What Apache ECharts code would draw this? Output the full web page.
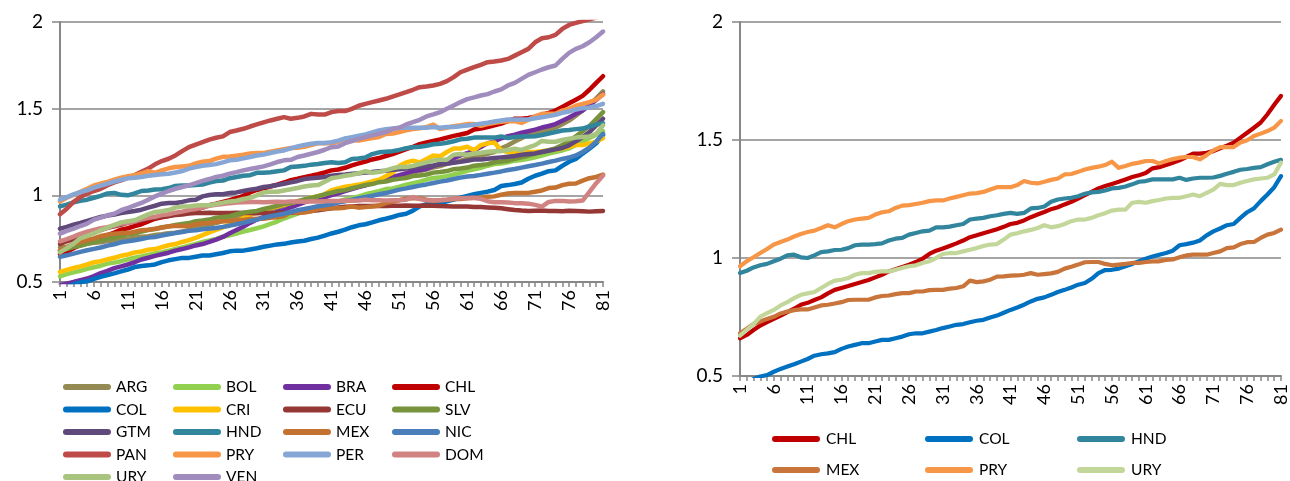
<!DOCTYPE html>
<html><head><meta charset="utf-8">
<script src="https://cdn.jsdelivr.net/npm/echarts@6/dist/echarts.min.js"></script>
<style>
html,body{margin:0;padding:0;background:#fff;}
#wrap{position:relative;width:1290px;height:481px;}
#left{position:absolute;left:0;top:0;width:645px;height:481px;}
#right{position:absolute;left:645px;top:0;width:645px;height:481px;}
</style>
</head><body><div id="wrap"><div id="left"></div><div id="right"></div></div>
<script>
const categories = ['1','2','3','4','5','6','7','8','9','10','11','12','13','14','15','16','17','18','19','20','21','22','23','24','25','26','27','28','29','30','31','32','33','34','35','36','37','38','39','40','41','42','43','44','45','46','47','48','49','50','51','52','53','54','55','56','57','58','59','60','61','62','63','64','65','66','67','68','69','70','71','72','73','74','75','76','77','78','79','80','81'];
const yTicks = [0.5, 1, 1.5, 2];

const ARG = [0.700,0.704,0.711,0.714,0.720,0.726,0.729,0.736,0.740,0.746,0.750,0.756,0.761,0.764,0.771,0.775,0.781,0.784,0.791,0.800,0.811,0.819,0.831,0.840,0.851,0.859,0.871,0.880,0.889,0.901,0.910,0.921,0.929,0.941,0.950,0.961,0.969,0.981,0.990,1.000,1.011,1.019,1.031,1.040,1.050,1.061,1.069,1.081,1.090,1.100,1.111,1.119,1.131,1.140,1.150,1.161,1.169,1.181,1.190,1.200,1.211,1.219,1.231,1.240,1.250,1.271,1.289,1.311,1.330,1.350,1.361,1.369,1.381,1.390,1.410,1.431,1.460,1.490,1.521,1.560,1.600];
const BOL = [0.533,0.545,0.556,0.564,0.576,0.585,0.594,0.606,0.612,0.620,0.631,0.640,0.647,0.656,0.665,0.672,0.680,0.691,0.700,0.709,0.720,0.731,0.740,0.749,0.761,0.770,0.779,0.791,0.800,0.810,0.821,0.835,0.849,0.866,0.880,0.894,0.911,0.925,0.934,0.946,0.955,0.964,0.976,0.985,0.994,1.006,1.015,1.024,1.036,1.040,1.050,1.061,1.070,1.079,1.091,1.100,1.104,1.111,1.120,1.129,1.141,1.150,1.159,1.171,1.180,1.184,1.191,1.200,1.204,1.211,1.220,1.229,1.241,1.250,1.259,1.271,1.290,1.309,1.331,1.350,1.370];
const BRA = [0.480,0.490,0.500,0.511,0.520,0.534,0.551,0.564,0.580,0.590,0.601,0.614,0.630,0.640,0.651,0.660,0.669,0.681,0.690,0.700,0.711,0.719,0.731,0.745,0.760,0.781,0.800,0.819,0.841,0.860,0.874,0.891,0.905,0.914,0.931,0.945,0.959,0.971,0.980,0.989,1.001,1.012,1.024,1.036,1.047,1.058,1.071,1.082,1.094,1.106,1.117,1.128,1.140,1.146,1.152,1.168,1.184,1.200,1.215,1.231,1.243,1.260,1.279,1.301,1.310,1.329,1.341,1.350,1.361,1.370,1.379,1.391,1.400,1.411,1.430,1.449,1.471,1.490,1.521,1.550,1.585];
const CHL = [0.660,0.674,0.695,0.714,0.728,0.742,0.756,0.771,0.785,0.802,0.810,0.822,0.833,0.850,0.865,0.873,0.881,0.890,0.898,0.907,0.918,0.929,0.943,0.952,0.962,0.972,0.983,0.997,1.017,1.031,1.040,1.051,1.062,1.074,1.088,1.096,1.105,1.113,1.122,1.132,1.144,1.149,1.159,1.173,1.184,1.195,1.207,1.215,1.227,1.238,1.252,1.266,1.280,1.295,1.305,1.314,1.323,1.333,1.343,1.351,1.360,1.380,1.385,1.394,1.404,1.414,1.428,1.442,1.442,1.446,1.453,1.465,1.476,1.489,1.510,1.531,1.552,1.574,1.609,1.649,1.687];
const COL = [0.455,0.470,0.487,0.498,0.504,0.518,0.530,0.540,0.550,0.561,0.572,0.586,0.592,0.596,0.601,0.615,0.625,0.632,0.639,0.639,0.646,0.653,0.653,0.660,0.667,0.677,0.681,0.681,0.688,0.695,0.703,0.710,0.717,0.720,0.728,0.734,0.738,0.748,0.756,0.768,0.780,0.790,0.802,0.816,0.827,0.833,0.844,0.856,0.865,0.875,0.887,0.894,0.912,0.936,0.949,0.950,0.955,0.965,0.975,0.986,0.997,1.006,1.014,1.021,1.031,1.054,1.059,1.065,1.074,1.096,1.113,1.125,1.139,1.144,1.170,1.194,1.210,1.241,1.269,1.300,1.347];
const CRI = [0.558,0.570,0.581,0.590,0.601,0.614,0.620,0.631,0.640,0.651,0.659,0.670,0.676,0.686,0.690,0.701,0.712,0.719,0.731,0.741,0.755,0.770,0.786,0.800,0.815,0.831,0.850,0.869,0.890,0.905,0.914,0.926,0.935,0.946,0.955,0.966,0.975,0.986,0.995,1.006,1.030,1.040,1.050,1.055,1.062,1.070,1.081,1.090,1.110,1.130,1.170,1.190,1.200,1.190,1.210,1.230,1.225,1.250,1.270,1.270,1.280,1.260,1.290,1.300,1.305,1.260,1.250,1.245,1.245,1.250,1.250,1.255,1.260,1.265,1.270,1.280,1.290,1.290,1.300,1.310,1.330];
const ECU = [0.720,0.735,0.748,0.760,0.776,0.789,0.800,0.812,0.821,0.830,0.842,0.849,0.856,0.866,0.870,0.876,0.881,0.886,0.890,0.895,0.898,0.898,0.899,0.898,0.898,0.898,0.899,0.898,0.898,0.897,0.898,0.898,0.899,0.898,0.899,0.902,0.906,0.910,0.914,0.920,0.925,0.930,0.934,0.936,0.938,0.938,0.939,0.940,0.939,0.940,0.940,0.941,0.940,0.940,0.941,0.940,0.938,0.937,0.936,0.936,0.935,0.933,0.932,0.930,0.928,0.925,0.920,0.915,0.912,0.910,0.911,0.912,0.910,0.909,0.908,0.911,0.910,0.908,0.906,0.908,0.910];
const SLV = [0.680,0.690,0.701,0.709,0.720,0.731,0.739,0.750,0.755,0.766,0.775,0.780,0.791,0.800,0.805,0.816,0.820,0.829,0.835,0.840,0.851,0.855,0.860,0.871,0.875,0.880,0.891,0.900,0.905,0.910,0.921,0.930,0.940,0.951,0.955,0.965,0.976,0.985,0.995,1.006,1.015,1.025,1.030,1.041,1.050,1.060,1.065,1.076,1.080,1.090,1.095,1.100,1.111,1.115,1.120,1.131,1.135,1.140,1.151,1.155,1.160,1.171,1.175,1.180,1.191,1.195,1.200,1.211,1.220,1.230,1.241,1.250,1.260,1.271,1.290,1.310,1.341,1.370,1.400,1.440,1.480];
const GTM = [0.808,0.818,0.831,0.841,0.852,0.864,0.875,0.883,0.889,0.898,0.904,0.910,0.917,0.929,0.940,0.952,0.956,0.956,0.962,0.971,0.975,0.994,1.002,1.006,1.006,1.013,1.017,1.025,1.033,1.038,1.048,1.052,1.060,1.067,1.075,1.083,1.094,1.098,1.102,1.106,1.113,1.117,1.120,1.124,1.128,1.131,1.135,1.139,1.142,1.147,1.150,1.155,1.160,1.163,1.168,1.172,1.178,1.183,1.188,1.193,1.200,1.207,1.207,1.211,1.215,1.219,1.223,1.227,1.234,1.238,1.242,1.250,1.257,1.265,1.273,1.288,1.311,1.336,1.365,1.403,1.442];
const HND = [0.936,0.946,0.960,0.969,0.975,0.986,0.997,1.011,1.014,1.003,1.000,1.011,1.025,1.028,1.034,1.035,1.042,1.054,1.057,1.057,1.059,1.062,1.074,1.082,1.085,1.099,1.106,1.113,1.116,1.130,1.130,1.133,1.139,1.144,1.163,1.167,1.170,1.177,1.181,1.187,1.191,1.187,1.191,1.210,1.212,1.218,1.238,1.248,1.252,1.255,1.262,1.272,1.278,1.280,1.286,1.295,1.297,1.303,1.312,1.323,1.326,1.333,1.333,1.333,1.333,1.340,1.331,1.337,1.340,1.340,1.341,1.348,1.357,1.365,1.374,1.377,1.382,1.385,1.397,1.408,1.416];
const MEX = [0.681,0.700,0.720,0.731,0.742,0.751,0.765,0.773,0.779,0.782,0.782,0.790,0.799,0.802,0.807,0.813,0.822,0.823,0.823,0.823,0.833,0.839,0.841,0.847,0.851,0.851,0.858,0.858,0.864,0.865,0.865,0.870,0.873,0.880,0.904,0.898,0.901,0.908,0.921,0.922,0.925,0.926,0.929,0.936,0.929,0.932,0.935,0.941,0.955,0.963,0.972,0.982,0.983,0.983,0.975,0.969,0.972,0.975,0.979,0.979,0.983,0.986,0.986,0.992,0.994,1.003,1.011,1.014,1.014,1.014,1.021,1.028,1.042,1.045,1.059,1.067,1.068,1.085,1.099,1.106,1.120];
const NIC = [0.645,0.654,0.664,0.674,0.683,0.691,0.699,0.710,0.718,0.729,0.735,0.741,0.748,0.756,0.760,0.768,0.775,0.783,0.789,0.795,0.798,0.804,0.808,0.812,0.818,0.825,0.833,0.841,0.852,0.860,0.871,0.879,0.887,0.894,0.904,0.914,0.921,0.929,0.937,0.942,0.948,0.958,0.965,0.975,0.983,0.990,0.998,1.006,1.013,1.023,1.033,1.040,1.048,1.056,1.063,1.071,1.079,1.086,1.094,1.102,1.109,1.112,1.118,1.125,1.131,1.138,1.146,1.152,1.160,1.168,1.175,1.183,1.192,1.200,1.210,1.218,1.230,1.250,1.275,1.310,1.355];
const PAN = [0.891,0.923,0.962,0.990,1.010,1.025,1.038,1.058,1.075,1.086,1.102,1.117,1.136,1.154,1.179,1.198,1.211,1.230,1.255,1.278,1.293,1.307,1.321,1.332,1.340,1.365,1.374,1.384,1.397,1.409,1.421,1.432,1.442,1.451,1.442,1.447,1.455,1.470,1.466,1.466,1.480,1.486,1.486,1.499,1.517,1.528,1.538,1.547,1.557,1.570,1.582,1.595,1.609,1.624,1.628,1.634,1.643,1.659,1.682,1.710,1.725,1.739,1.753,1.768,1.772,1.778,1.787,1.806,1.826,1.845,1.883,1.906,1.912,1.926,1.960,1.983,1.995,2.006,2.015,2.025,2.035];
const PRY = [0.965,0.986,1.003,1.021,1.038,1.057,1.068,1.078,1.091,1.102,1.110,1.116,1.127,1.139,1.130,1.144,1.156,1.163,1.167,1.170,1.184,1.194,1.198,1.212,1.222,1.224,1.229,1.234,1.241,1.244,1.244,1.252,1.259,1.266,1.273,1.275,1.280,1.290,1.300,1.300,1.300,1.309,1.326,1.319,1.316,1.323,1.331,1.337,1.354,1.356,1.365,1.375,1.382,1.387,1.394,1.408,1.382,1.390,1.399,1.404,1.411,1.411,1.401,1.411,1.419,1.425,1.428,1.428,1.418,1.436,1.456,1.470,1.470,1.470,1.489,1.499,1.517,1.527,1.538,1.552,1.581];
const PER = [0.975,0.990,1.006,1.019,1.029,1.044,1.056,1.067,1.079,1.090,1.098,1.102,1.106,1.113,1.117,1.121,1.125,1.132,1.140,1.154,1.163,1.171,1.175,1.180,1.190,1.202,1.205,1.213,1.221,1.230,1.236,1.244,1.252,1.259,1.271,1.282,1.290,1.298,1.302,1.302,1.307,1.315,1.328,1.336,1.344,1.351,1.363,1.374,1.382,1.386,1.390,1.390,1.390,1.390,1.390,1.394,1.390,1.394,1.394,1.399,1.403,1.407,1.413,1.419,1.426,1.432,1.438,1.438,1.438,1.438,1.445,1.451,1.457,1.465,1.476,1.484,1.495,1.503,1.507,1.515,1.528];
const DOM = [0.735,0.748,0.762,0.778,0.790,0.800,0.810,0.816,0.826,0.836,0.841,0.850,0.861,0.870,0.876,0.886,0.891,0.900,0.906,0.915,0.921,0.930,0.940,0.945,0.950,0.955,0.958,0.960,0.961,0.962,0.960,0.962,0.963,0.962,0.964,0.965,0.963,0.966,0.965,0.966,0.967,0.968,0.970,0.969,0.970,0.975,0.972,0.971,0.970,0.972,0.971,0.975,0.990,0.978,0.972,0.970,0.972,0.975,0.980,0.983,0.985,0.985,0.980,0.966,0.960,0.960,0.959,0.955,0.955,0.952,0.945,0.935,0.962,0.968,0.968,0.965,0.966,0.970,1.020,1.070,1.115];
const URY = [0.671,0.695,0.720,0.752,0.766,0.780,0.799,0.813,0.830,0.844,0.850,0.856,0.873,0.890,0.904,0.908,0.915,0.929,0.936,0.936,0.941,0.943,0.943,0.950,0.958,0.965,0.969,0.979,0.986,1.000,1.017,1.021,1.021,1.028,1.035,1.042,1.051,1.057,1.059,1.078,1.099,1.105,1.113,1.119,1.127,1.139,1.130,1.135,1.144,1.156,1.163,1.163,1.170,1.181,1.190,1.201,1.205,1.205,1.234,1.238,1.234,1.241,1.246,1.252,1.255,1.255,1.262,1.269,1.262,1.276,1.290,1.314,1.309,1.309,1.319,1.326,1.333,1.337,1.340,1.354,1.404];
const VEN = [0.779,0.795,0.808,0.823,0.837,0.860,0.871,0.885,0.894,0.914,0.927,0.942,0.956,0.975,0.994,1.010,1.025,1.038,1.048,1.058,1.071,1.083,1.094,1.106,1.113,1.125,1.134,1.144,1.152,1.159,1.167,1.179,1.192,1.202,1.205,1.221,1.230,1.240,1.250,1.263,1.278,1.282,1.301,1.313,1.326,1.336,1.346,1.355,1.365,1.382,1.390,1.409,1.422,1.436,1.455,1.467,1.480,1.499,1.518,1.538,1.555,1.565,1.576,1.584,1.599,1.611,1.634,1.649,1.672,1.695,1.710,1.726,1.739,1.749,1.787,1.822,1.845,1.860,1.883,1.912,1.945];

const leftNames = ['ARG','BOL','BRA','CHL','COL','CRI','ECU','SLV','GTM','HND','MEX','NIC','PAN','PRY','PER','DOM','URY','VEN'];
const leftData = {ARG,BOL,BRA,CHL,COL,CRI,ECU,SLV,GTM,HND,MEX,NIC,PAN,PRY,PER,DOM,URY,VEN};
const leftColors = {ARG:'#948A54',BOL:'#92D050',BRA:'#7030A0',CHL:'#C00000',COL:'#0070C0',CRI:'#FFC000',ECU:'#953735',SLV:'#77933C',GTM:'#604A7B',HND:'#31859C',MEX:'#C4722F',NIC:'#4A7EBB',PAN:'#BE4B48',PRY:'#F79646',PER:'#86A7D6',DOM:'#D08381',URY:'#A9C47F',VEN:'#A08DBE'};
const leftLegendCols = [['ARG','COL','GTM','PAN','URY'],['BOL','CRI','HND','PRY','VEN'],['BRA','ECU','MEX','PER'],['CHL','SLV','NIC','DOM']];

const rightNames = ['CHL','COL','HND','MEX','PRY','URY'];
const rightData = {CHL,COL,HND,MEX,PRY,URY};
const rightColors = {CHL:'#C00000',COL:'#0070C0',HND:'#31859C',MEX:'#C8743A',PRY:'#F79646',URY:'#C4D79B'};
const rightLegendCols = [['CHL','MEX'],['COL','PRY'],['HND','URY']];

const FONT = 'Lato';
const GRAY = '#878787';
const pill = 'path://M3,0 L45,0 A3,3 0 0 1 45,6 L3,6 A3,3 0 0 1 3,0 Z';

function buildOption(cfg) {
  const legends = cfg.legendCols.map((col, k) => ({
    type: 'plain', orient: 'vertical', left: cfg.legendLefts[k], top: cfg.legendTop,
    width: 100, height: 200,
    data: col, icon: pill, itemWidth: cfg.iconW, itemHeight: 6, itemGap: cfg.legendGap,
    selectedMode: false, padding: 0,
    textStyle: {fontFamily: FONT, fontSize: 15.5, color: '#000', lineHeight: 18}
  }));
  const series = cfg.names.map(n => ({
    name: n, type: 'line', data: cfg.data[n], showSymbol: false, symbol: 'none',
    lineStyle: {width: cfg.lw, color: cfg.colors[n], cap: 'round', join: 'round'},
    itemStyle: {color: cfg.colors[n]}, emphasis: {disabled: true}, animation: false, clip: true
  }));
  return {
    animation: false,
    backgroundColor: '#fff',
    grid: cfg.grid,
    legend: legends,
    xAxis: {
      type: 'category', data: categories, boundaryGap: false,
      axisLine: {show: true, lineStyle: {color: GRAY, width: 2}},
      axisTick: {show: true, interval: 0, length: 5, lineStyle: {color: GRAY, width: 1.5}},
      axisLabel: {interval: 4, rotate: 90, margin: 8, fontFamily: FONT, fontSize: cfg.xFont, color: '#000'},
      splitLine: {show: false}
    },
    yAxis: {
      type: 'value', min: yTicks[0], max: yTicks[yTicks.length - 1], interval: 0.5,
      axisLine: {show: true, lineStyle: {color: GRAY, width: 2}},
      axisTick: {show: true, length: 8, lineStyle: {color: GRAY, width: 1.5}},
      axisLabel: {margin: 17, fontFamily: FONT, fontSize: 19, color: '#000', formatter: v => String(v)},
      splitLine: {show: true, lineStyle: {color: GRAY, width: 1.5}}
    },
    series
  };
}

const leftChart = echarts.init(document.getElementById('left'), null, {renderer: 'canvas'});
leftChart.setOption(buildOption({
  names: leftNames, data: leftData, colors: leftColors, legendCols: leftLegendCols,
  legendLefts: [63, 173, 283, 392], legendTop: 378, legendGap: 4.5, iconW: 48,
  grid: {left: 60, top: 22, width: 543, height: 260}, lw: 4.5, xFont: 18
}));

const rightChart = echarts.init(document.getElementById('right'), null, {renderer: 'canvas'});
rightChart.setOption(buildOption({
  names: rightNames, data: rightData, colors: rightColors, legendCols: rightLegendCols,
  legendLefts: [127, 280, 432], legendTop: 430, legendGap: 13, iconW: 50,
  grid: {left: 95, top: 22, width: 545, height: 354}, lw: 4.2, xFont: 18
}));
</script>
</body></html>
